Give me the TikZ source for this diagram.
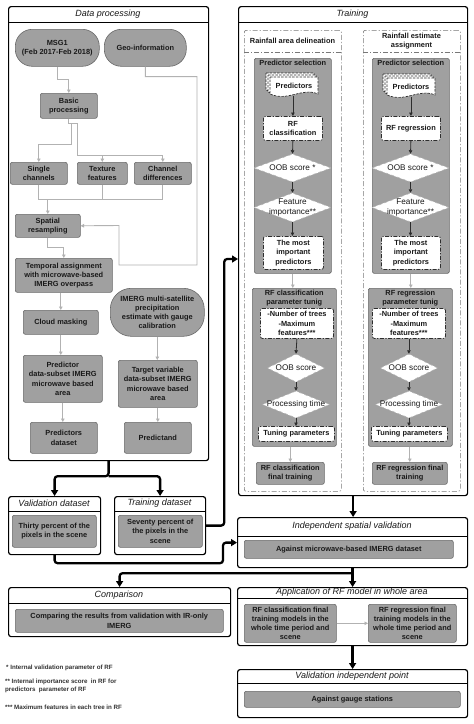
\documentclass[tikz,border=0pt]{standalone}
\usepackage{fontspec}
\setmainfont{Liberation Sans}
\usetikzlibrary{shapes.geometric,arrows.meta,calc}
\definecolor{boxgray}{RGB}{160,160,160}
\definecolor{boxedge}{RGB}{105,105,105}
\definecolor{linegray}{RGB}{178,178,178}
\definecolor{dashdark}{RGB}{45,45,45}
\definecolor{outerdash}{RGB}{120,120,120}
\definecolor{txt}{RGB}{25,25,25}
\tikzset{
 frame/.style={draw=black, line width=1.2pt, rounded corners=2.5pt, fill=white, inner sep=0},
 ftitle/.style={font=\itshape\fontsize{9}{11}\selectfont, text=txt, inner sep=0},
 gbox/.style={draw=boxedge, fill=boxgray, line width=0.6pt, rounded corners=2pt, align=center, inner xsep=2pt, inner ysep=0pt, font=\bfseries\fontsize{7.4}{9.2}\selectfont, text=txt},
 term/.style={gbox, rounded corners=17pt},
 panel/.style={draw=boxedge, fill=boxgray, line width=0.6pt, rounded corners=1.5pt, inner sep=0},
 ptitle/.style={font=\bfseries\fontsize{7.4}{9.2}\selectfont, text=txt, align=center, inner sep=0},
 ddbox/.style={draw=dashdark, fill=white, line width=0.8pt, rounded corners=2pt, dash pattern=on 4pt off 1.5pt on 1.2pt off 1.5pt, align=center, inner xsep=2pt, inner ysep=0pt, font=\bfseries\fontsize{7.4}{9.2}\selectfont, text=txt},
 outer/.style={draw=outerdash, line width=0.6pt, rounded corners=2pt, dash pattern=on 5pt off 2pt on 1.2pt off 2pt, inner sep=0},
 outerline/.style={draw=outerdash, line width=0.6pt, dash pattern=on 5pt off 2pt on 1.2pt off 2pt},
 dia/.style={diamond, draw=gray!60, dashed, fill=white, inner sep=0, line width=0.5pt},
 diatext/.style={font=\fontsize{8.2}{9.2}\selectfont, align=center, text=txt, inner sep=0},
 gline/.style={draw=linegray, line width=0.9pt},
 garrow/.style={gline, -{Triangle[length=3.5pt,width=3.5pt]}},
 darrow/.style={draw=dashdark, line width=0.8pt, -{Triangle[length=3.5pt,width=3.5pt]}},
 bline/.style={draw=black, line width=2.3pt, rounded corners=3pt},
 barrow/.style={bline, -{Triangle[length=6pt,width=7pt]}},
 foot/.style={font=\bfseries\fontsize{6.2}{8}\selectfont, text=black!80, anchor=west, align=left, inner sep=0},
}
\newcommand\bx[7]{\node[#1, anchor=north west, minimum width={(#5)-(#3)}, minimum height={(#6)-(#4)}] (#2) at (#3,#4) {#7};}
\newcommand\frm[7]{\node[frame, anchor=north west, minimum width={(#4)-(#2)}, minimum height={(#5)-(#3)}] (#1) at (#2,#3) {};
 \draw[line width=1pt] (#2,#6) -- (#4,#6);
 \node[ftitle] (#1-t) at ({((#2)+(#4))/2},{((#3)+(#6))/2}) {#7};}
\newcommand\docpage[2]{\draw[dashdark, fill=white, line width=0.7pt, dash pattern=on 2.5pt off 1.2pt] (#1,#2) -- ({#1+48},#2) -- ({#1+48},{#2+17}) .. controls ({#1+32},{#2+10}) and ({#1+18},{#2+25}) .. (#1,{#2+17}) -- cycle;}
\begin{document}
\begin{tikzpicture}[x=1pt,y=-1pt]
\useasboundingbox (0,0) rectangle (474,724);
\fill[white] (0,0) rectangle (474,724);

% ---------------- Data processing ----------------
\frm{dp}{8}{6}{208}{460}{22}{Data processing}
\bx{term}{msg}{15}{29}{99}{66}{MSG1\\(Feb 2017-Feb 2018)}
\bx{term}{geo}{104}{29}{186}{66}{Geo-information}
\bx{gbox}{basic}{40}{93}{97}{118}{Basic\\processing}
\bx{gbox}{single}{10}{162}{67}{184}{Single\\channels}
\bx{gbox}{texture}{77}{162}{127}{184}{Texture\\features}
\bx{gbox}{chdiff}{134}{162}{191}{184}{Channel\\differences}
\bx{gbox}{spatial}{15}{214}{80}{237}{Spatial\\resampling}
\bx{gbox}{temporal}{15}{258}{112}{292}{Temporal assignment\\with microwave-based\\IMERG overpass}
\bx{gbox}{cloud}{23}{310}{98}{334}{Cloud masking}
\bx{gbox}{pred}{23}{355}{102}{402}{Predictor\\data-subset IMERG\\microwave based\\area}
\bx{gbox}{predset}{30}{422}{97}{453}{Predictors\\dataset}
\node[term, anchor=north west, minimum width=94, minimum height=48, rounded corners=21pt] (imerg) at (110,288) {IMERG multi-satellite\\precipitation\\estimate with gauge\\calibration};
\bx{gbox}{target}{118}{360}{197}{407}{Target variable\\data-subset IMERG\\microwave based\\area}
\bx{gbox}{predictand}{124}{422}{191}{453}{Predictand}

\draw[garrow] (msg.south) -- ++(0,13) -| (basic.north);
\coordinate (b1) at ($(basic.south)+(0,5)$);
\draw[gline] (basic.south) -- (b1);
\draw[garrow] (b1) -- ++(2.5,0) -- ++(0,21) -| (single.north);
\draw[garrow] (b1) -- ++(8.5,0) -- ++(0,32) -| (chdiff.north);
\draw[garrow] ($(texture.north)+(0,-7)$) -- (texture.north);
\draw[gline] (single.south) -- ++(0,15) -| (chdiff.south);
\draw[gline] (texture.south) -- ++(0,15);
\draw[garrow] ($(spatial.north)+(0,-15)$) -- (spatial.north);
\coordinate (g1) at (197,265);
\coordinate (g2) at (119,225.5);
\draw[garrow] (geo.south) -- ++(0,10) -| (g1) -| (g2) -- (spatial.east);
\draw[garrow] (spatial.south) -- ++(0,10) -| (temporal.north);
\draw[garrow] (cloud.north |- temporal.south) -- (cloud.north);
\draw[garrow] (cloud.south) -- (cloud.south |- pred.north);
\draw[garrow] (pred.south) -- (pred.south |- predset.north);
\draw[garrow] (imerg.south) -- (imerg.south |- target.north);
\draw[garrow] (target.south) -- (target.south |- predictand.north);

% ---------------- datasets ----------------
\frm{vd}{8}{496}{100}{554}{511}{Validation dataset}
\bx{gbox}{vdi}{12}{515}{96}{547}{Thirty percent of the\\pixels in the scene}
\frm{td}{114}{496}{205}{554}{511}{Training dataset}
\bx{gbox}{tdi}{118}{515}{202}{547}{Seventy percent of\\the pixels in the\\scene}

% ---------------- Comparison ----------------
\frm{cmp}{8}{587}{230}{636}{603}{Comparison}
\bx{gbox}{cmpi}{15}{609}{223}{632}{Comparing the results from validation with IR-only\\IMERG}

% ---------------- Training ----------------
\frm{tr}{238}{6}{467}{495}{22}{Training}
\node[outer, anchor=north west, minimum width=97, minimum height=461] (rad) at (244,30) {};
\draw[outerline] (244,52) -- (341,52);
\node[ptitle] (rad-t) at (292.5,41) {Rainfall area delineation};
\node[outer, anchor=north west, minimum width=97, minimum height=461] (rea) at (363,30) {};
\draw[outerline] (363,52) -- (460,52);
\node[ptitle] (rea-t) at (411.5,41) {Rainfall estimate\\assignment};

% left column
\node[panel, anchor=north west, minimum width=77, minimum height=215] (psL) at (254,58) {};
\node[ptitle, anchor=north] (psL-t) at ($(psL.north)+(0,1.5)$) {Predictor selection};
\docpage{266}{73}\docpage{268}{75}\docpage{270}{77}
\node[ptitle, minimum width=48, minimum height=20] (predL) at (294,86) {Predictors};
\bx{ddbox}{rfcL}{263}{116}{322}{140}{RF\\classification}
\node[dia, minimum width=77, minimum height=28] (oobL) at (292.5,168) {};
\node[diatext] (oobL-t) at (oobL) {OOB score *};
\node[dia, minimum width=77, minimum height=29] (featL) at (292.5,207.5) {};
\node[diatext] (featL-t) at (featL) {Feature\\importance**};
\bx{ddbox}{mostL}{263}{236}{323}{269}{The most\\important\\predictors}
\draw[darrow] (rfcL.north |- predL.south) -- (rfcL.north);
\draw[darrow] (rfcL.south) -- (oobL.north);
\draw[darrow] (oobL.south) -- (featL.north);
\draw[darrow] (featL.south) -- (featL.south |- mostL.north);

\node[panel, anchor=north west, minimum width=84, minimum height=158] (tunL) at (252,288) {};
\node[ptitle, anchor=north] (tunL-t) at ($(tunL.north)+(0,1.5)$) {RF classification\\parameter tunig};
\bx{ddbox}{parL}{260}{308}{333}{338}{-Number of trees\\-Maximum\\features***}
\node[dia, minimum width=57, minimum height=28] (oob2L) at (296,368) {};
\node[diatext] (oob2L-t) at (oob2L) {OOB score};
\node[dia, minimum width=67, minimum height=27] (procL) at (296,404.5) {};
\node[diatext] (procL-t) at (procL) {Processing time};
\bx{ddbox}{tunpL}{258}{426}{334}{441}{Tuning parameters}
\draw[darrow] (parL.south) -- (oob2L.north);
\draw[darrow] (oob2L.south) -- (procL.north);
\draw[darrow] (procL.south) -- (procL.south |- tunpL.north);
\bx{gbox}{finL}{256}{462}{324}{484}{RF classification\\final training}
\draw[garrow] (psL.south) -- (psL.south |- tunL.north);
\draw[garrow] (finL.north |- tunL.south) -- (finL.north);

% right column
\node[panel, anchor=north west, minimum width=77, minimum height=215] (psR) at (372,58) {};
\node[ptitle, anchor=north] (psR-t) at ($(psR.north)+(0,1.5)$) {Predictor selection};
\docpage{383}{74}\docpage{385}{76}\docpage{387}{78}
\node[ptitle, minimum width=48, minimum height=20] (predR) at (411,87) {Predictors};
\bx{ddbox}{rfrR}{381}{116}{440}{140}{RF regression}
\node[dia, minimum width=77, minimum height=28] (oobR) at (410.5,168) {};
\node[diatext] (oobR-t) at (oobR) {OOB score *};
\node[dia, minimum width=77, minimum height=29] (featR) at (410.5,207.5) {};
\node[diatext] (featR-t) at (featR) {Feature\\importance**};
\bx{ddbox}{mostR}{381}{236}{440}{269}{The most\\important\\predictors}
\draw[darrow] (rfrR.north |- predR.south) -- (rfrR.north);
\draw[darrow] (rfrR.south) -- (oobR.north);
\draw[darrow] (oobR.south) -- (featR.north);
\draw[darrow] (featR.south) -- (featR.south |- mostR.north);

\node[panel, anchor=north west, minimum width=84, minimum height=158] (tunR) at (368,288) {};
\node[ptitle, anchor=north] (tunR-t) at ($(tunR.north)+(0,1.5)$) {RF regression\\parameter tunig};
\bx{ddbox}{parR}{372}{308}{445}{338}{-Number of trees\\-Maximum\\features***}
\node[dia, minimum width=57, minimum height=28] (oob2R) at (409,368) {};
\node[diatext] (oob2R-t) at (oob2R) {OOB score};
\node[dia, minimum width=67, minimum height=27] (procR) at (409,404.5) {};
\node[diatext] (procR-t) at (procR) {Processing time};
\bx{ddbox}{tunpR}{371}{426}{447}{441}{Tuning parameters}
\draw[darrow] (parR.south) -- (parR.south |- oob2R.north);
\draw[darrow] (oob2R.south) -- (procR.north);
\draw[darrow] (procR.south) -- (procR.south |- tunpR.north);
\bx{gbox}{finR}{372}{462}{447}{484}{RF regression final\\training}
\draw[garrow] (psR.south) -- (psR.south |- tunR.north);
\draw[garrow] (finR.north |- tunR.south) -- (finR.north);

% ---------------- right lower frames ----------------
\frm{isv}{237}{517}{467}{567}{536}{Independent spatial validation}
\bx{gbox}{isvi}{244}{540}{453}{558}{Against microwave-based IMERG dataset}
\frm{app}{237}{587}{467}{645}{598}{Application of RF model in whole area}
\bx{gbox}{appL}{244}{604}{336}{642}{RF classification final\\training models in the\\whole time period and\\scene}
\bx{gbox}{appR}{368}{604}{456}{642}{RF regression final\\training models in the\\whole time period and\\scene}
\draw[garrow, line width=0.6pt] (appL.east) -- (appR.west);
\frm{vip}{237}{669}{467}{717}{683}{Validation independent point}
\bx{gbox}{vipi}{244}{691}{460}{707}{Against gauge stations}

% ---------------- thick connectors ----------------
\draw[barrow] (dp.south) -- ++(0,15) -| (vd.north);
\draw[barrow] ($(dp.south)+(0,15)$) -| (td.north);
\coordinate (tin) at (238,259);
\draw[barrow] (td.east) -- ++(18,0) |- (tin);
\draw[barrow] (vd.south) -- ++(0,8) -| ($(isv.west)+(-14,0)$) -- (isv.west);
\draw[barrow] (tr.south) -- (tr.south |- isv.north);
\draw[barrow] (isv.south) -- (isv.south |- app.north);
\draw[barrow] ($(isv.south)+(0,5)$) -| (cmp.north);
\draw[barrow] (app.south) -- (app.south |- vip.north);

% ---------------- footnotes ----------------
\node[foot] (f1) at (6,668) {* Internal validation parameter of RF};
\node[foot] (f2) at (5,686) {** Internal importance score\ \ in RF for\\predictors\ \ parameter of RF};
\node[foot] (f3) at (5,707) {*** Maximum features in each tree in RF};
\end{tikzpicture}
\end{document}
